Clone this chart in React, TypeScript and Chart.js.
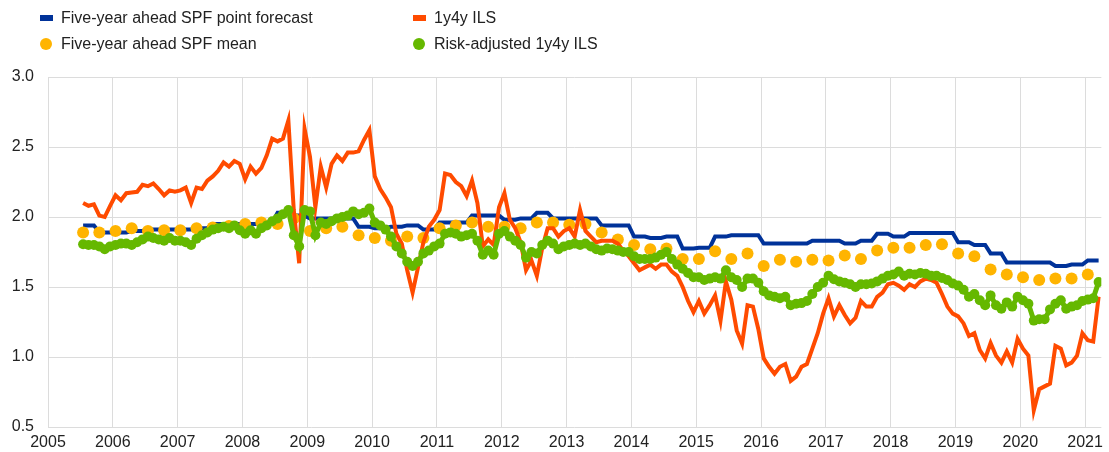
import React, { useEffect, useRef } from "react";
import { Chart, registerables } from "chart.js";

Chart.register(...registerables);

// Monthly observations start in July 2005
const START_YEAR = 2005;
const START_MONTH = 7;

// 1y4y ILS (monthly)
const ils = [
  2.10, 2.08, 2.09, 2.01, 2.00, 2.08, 2.155, 2.12, 2.17, 2.175, 2.18, 2.23,
  2.22, 2.24, 2.20, 2.155, 2.19, 2.18, 2.19, 2.21, 2.10, 2.21, 2.20, 2.26,
  2.29, 2.33, 2.39, 2.36, 2.40, 2.38, 2.27, 2.36, 2.31, 2.35, 2.44, 2.56,
  2.54, 2.56, 2.69, 2.05, 1.67, 2.63, 2.43, 2.07, 2.36, 2.21, 2.38, 2.44,
  2.40, 2.46, 2.46, 2.47, 2.55, 2.62, 2.29, 2.20, 2.14, 2.07, 1.88, 1.81,
  1.62, 1.46, 1.64, 1.82, 1.93, 1.98, 2.05, 2.31, 2.30, 2.25, 2.22, 2.15,
  2.26, 2.10, 1.79, 1.84, 1.80, 2.07, 2.17, 1.98, 1.92, 1.82, 1.62, 1.69,
  1.58, 1.78, 1.92, 1.92, 1.86, 1.90, 1.92, 1.86, 2.05, 1.90, 1.86, 1.82,
  1.83, 1.83, 1.83, 1.81, 1.76, 1.72, 1.67, 1.62, 1.64, 1.66, 1.63, 1.66,
  1.66, 1.61, 1.58, 1.50, 1.40, 1.32, 1.40, 1.31, 1.37, 1.44, 1.26, 1.54,
  1.41, 1.19, 1.095, 1.37, 1.36, 1.20, 0.99, 0.93, 0.88, 0.93, 0.95, 0.83,
  0.86, 0.93, 0.95, 1.06, 1.17, 1.31, 1.42, 1.29, 1.37, 1.30, 1.24, 1.28,
  1.40, 1.36, 1.36, 1.43, 1.46, 1.52, 1.53, 1.51, 1.48, 1.52, 1.50, 1.54,
  1.56, 1.55, 1.53, 1.45, 1.36, 1.31, 1.29, 1.24, 1.15, 1.17, 1.05, 0.99,
  1.10, 1.01, 0.96, 1.04, 0.96, 1.13, 1.06, 1.01, 0.62, 0.77, 0.79, 0.81,
  1.08, 1.06, 0.94, 0.96, 1.01, 1.17, 1.12, 1.11, 1.43,
];

// Risk-adjusted 1y4y ILS (monthly)
const riskAdjustedIls = [
  1.805, 1.80, 1.80, 1.79, 1.77, 1.79, 1.80, 1.81, 1.81, 1.80, 1.82, 1.84,
  1.86, 1.85, 1.84, 1.83, 1.85, 1.83, 1.83, 1.82, 1.80, 1.845, 1.87, 1.89,
  1.91, 1.92, 1.93, 1.92, 1.94, 1.905, 1.88, 1.905, 1.88, 1.92, 1.94, 1.97,
  1.99, 2.02, 2.05, 1.87, 1.79, 2.05, 2.04, 1.87, 1.96, 1.95, 1.97, 1.99,
  2.00, 2.01, 2.04, 2.02, 2.03, 2.06, 1.96, 1.94, 1.91, 1.86, 1.79, 1.74,
  1.68, 1.65, 1.68, 1.74, 1.76, 1.79, 1.81, 1.88, 1.89, 1.88, 1.86, 1.87,
  1.88, 1.83, 1.73, 1.76, 1.73, 1.88, 1.90, 1.86, 1.83, 1.80, 1.71, 1.75,
  1.74, 1.80, 1.83, 1.81, 1.77, 1.79, 1.80, 1.81, 1.80, 1.81, 1.79, 1.77,
  1.76, 1.775, 1.77, 1.76, 1.75, 1.75, 1.72, 1.70, 1.70, 1.70, 1.71, 1.73,
  1.75, 1.70, 1.66, 1.63, 1.60, 1.57, 1.57, 1.55, 1.56, 1.57, 1.56, 1.62,
  1.57, 1.55, 1.50, 1.56, 1.56, 1.53, 1.47, 1.44, 1.43, 1.42, 1.43, 1.37,
  1.38, 1.385, 1.40, 1.45, 1.50, 1.53, 1.58, 1.555, 1.54, 1.53, 1.52, 1.50,
  1.52, 1.52, 1.525, 1.54, 1.56, 1.58, 1.59, 1.61, 1.58, 1.595, 1.59, 1.60,
  1.595, 1.58, 1.58, 1.565, 1.55, 1.525, 1.51, 1.48, 1.43, 1.45, 1.405, 1.37,
  1.44, 1.37, 1.345, 1.39, 1.36, 1.43, 1.405, 1.38, 1.26, 1.27, 1.27, 1.34,
  1.38, 1.405, 1.345, 1.36, 1.37, 1.40, 1.41, 1.42, 1.535,
];

// Five-year ahead SPF mean (quarterly, from Q3 2005)
const spfMean = [
  1.89, 1.89, 1.90, 1.92, 1.90, 1.905, 1.905, 1.92, 1.925, 1.935, 1.95, 1.96,
  1.95, 1.99, 1.90, 1.92, 1.93, 1.87, 1.85, 1.83, 1.86, 1.85, 1.92, 1.94,
  1.96, 1.93, 1.93, 1.92, 1.96, 1.96, 1.945, 1.95, 1.89, 1.84, 1.80, 1.77,
  1.775, 1.70, 1.70, 1.755, 1.70, 1.74, 1.65, 1.695, 1.68, 1.695, 1.69, 1.725,
  1.70, 1.76, 1.78, 1.78, 1.80, 1.805, 1.74, 1.72, 1.625, 1.59, 1.57, 1.55,
  1.56, 1.56, 1.59,
];

// Five-year ahead SPF point forecast (quarterly, from Q3 2005)
const spfPoint = [
  1.94, 1.89, 1.89, 1.90, 1.91, 1.91, 1.91, 1.92, 1.95, 1.95, 1.95, 1.96,
  2.03, 2.01, 1.99, 1.99, 1.99, 1.93, 1.92, 1.93, 1.94, 1.91, 1.96, 1.96,
  2.01, 2.01, 1.98, 1.99, 2.03, 1.99, 1.99, 1.99, 1.94, 1.94, 1.86, 1.85,
  1.86, 1.775, 1.78, 1.86, 1.87, 1.87, 1.81, 1.81, 1.81, 1.83, 1.83, 1.81,
  1.83, 1.88, 1.86, 1.885, 1.885, 1.885, 1.82, 1.80, 1.74, 1.675, 1.675, 1.675,
  1.65, 1.66, 1.69,
];

const yearTicks = [
  2005, 2006, 2007, 2008, 2009, 2010, 2011, 2012, 2013, 2014, 2015, 2016,
  2017, 2018, 2019, 2020, 2021,
];
const valueTicks = [0.5, 1.0, 1.5, 2.0, 2.5, 3.0];

const LABELS = {
  point: "Five-year ahead SPF point forecast",
  mean: "Five-year ahead SPF mean",
  ils: "1y4y ILS",
  risk: "Risk-adjusted 1y4y ILS",
};

const COLORS = {
  point: "#003299",
  mean: "#FFB400",
  ils: "#FF4B00",
  risk: "#65B800",
};

const FONT = "'Liberation Sans', Arial, Helvetica, sans-serif";

const monthTime = (k: number) => START_YEAR + (START_MONTH - 1 + k + 0.5) / 12;

export default function App() {
  const canvasRef = useRef<HTMLCanvasElement | null>(null);

  useEffect(() => {
    const canvas = canvasRef.current;
    if (!canvas) return;

    const ilsData = ils.map((v, k) => ({ x: monthTime(k), y: v }));
    const riskData = riskAdjustedIls.map((v, k) => ({ x: monthTime(k), y: v }));
    const meanData = spfMean.map((v, q) => ({ x: monthTime(3 * q), y: v }));
    const pointData: { x: number; y: number }[] = [];
    spfPoint.forEach((v, q) => {
      for (let j = 0; j < 3; j++) {
        const k = 3 * q + j;
        if (k < ils.length) pointData.push({ x: monthTime(k), y: v });
      }
    });

    const chart = new Chart(canvas, {
      type: "line",
      data: {
        datasets: [
          {
            label: LABELS.risk,
            data: riskData,
            borderColor: COLORS.risk,
            backgroundColor: COLORS.risk,
            borderWidth: 5,
            pointRadius: 5,
            pointBorderWidth: 0,
            pointBackgroundColor: COLORS.risk,
            tension: 0,
          },
          {
            label: LABELS.ils,
            data: ilsData,
            borderColor: COLORS.ils,
            backgroundColor: COLORS.ils,
            borderWidth: 4,
            pointRadius: 0,
            tension: 0,
          },
          {
            label: LABELS.mean,
            data: meanData,
            borderColor: COLORS.mean,
            backgroundColor: COLORS.mean,
            showLine: false,
            pointRadius: 6,
            pointBorderWidth: 0,
            pointBackgroundColor: COLORS.mean,
          },
          {
            label: LABELS.point,
            data: pointData,
            borderColor: COLORS.point,
            backgroundColor: COLORS.point,
            borderWidth: 4,
            pointRadius: 0,
            tension: 0,
          },
        ],
      },
      options: {
        animation: false,
        responsive: false,
        devicePixelRatio: 1,
        events: [],
        layout: { padding: { top: 77, right: 3, bottom: 0, left: 0 } },
        plugins: {
          legend: { display: false },
          tooltip: { enabled: false },
          title: { display: false },
        },
        scales: {
          x: {
            type: "linear",
            min: 2005,
            max: 2021.25,
            afterBuildTicks: (axis: any) => {
              axis.ticks = yearTicks.map((v) => ({ value: v }));
            },
            afterFit: (axis: any) => {
              axis.height = 25;
            },
            ticks: {
              autoSkip: false,
              maxRotation: 0,
              padding: 6,
              color: "#222",
              font: { family: FONT, size: 16 },
              callback: (v: any) => String(v),
            },
            grid: { color: "#dcdcdc", lineWidth: 1, drawTicks: false },
            border: { display: false },
          },
          y: {
            type: "linear",
            min: 0.5,
            max: 3.0,
            afterBuildTicks: (axis: any) => {
              axis.ticks = valueTicks.map((v) => ({ value: v }));
            },
            afterFit: (axis: any) => {
              axis.width = 48;
            },
            ticks: {
              padding: 14,
              color: "#222",
              font: { family: FONT, size: 16 },
              callback: (v: any) => Number(v).toFixed(1),
            },
            grid: { color: "#dcdcdc", lineWidth: 1, drawTicks: false },
            border: { display: false },
          },
        },
      },
    });

    return () => {
      chart.destroy();
    };
  }, []);

  const legendRows = [
    [
      { label: LABELS.point, color: COLORS.point, shape: "rect" },
      { label: LABELS.ils, color: COLORS.ils, shape: "rect" },
    ],
    [
      { label: LABELS.mean, color: COLORS.mean, shape: "circle" },
      { label: LABELS.risk, color: COLORS.risk, shape: "circle" },
    ],
  ];
  const colLeft = [40, 413];
  const rowCenter = [18, 44];

  return (
    <div
      style={{
        position: "absolute",
        left: 0,
        top: 0,
        width: 1109,
        height: 452,
        background: "#fff",
        overflow: "hidden",
      }}
    >
      <canvas
        ref={canvasRef}
        width={1109}
        height={452}
        style={{ display: "block", width: 1109, height: 452 }}
      />
      {legendRows.map((row, r) =>
        row.map((item, c) => (
          <div
            key={`${r}-${c}`}
            style={{
              position: "absolute",
              left: colLeft[c],
              top: rowCenter[r] - 10,
              height: 20,
              display: "flex",
              alignItems: "center",
              fontFamily: FONT,
              fontSize: 16,
              color: "#222",
              whiteSpace: "nowrap",
            }}
          >
            <span
              style={{
                display: "inline-block",
                width: item.shape === "rect" ? 13 : 12,
                height: item.shape === "rect" ? 6 : 12,
                borderRadius: item.shape === "rect" ? 0 : "50%",
                background: item.color,
                marginRight: item.shape === "rect" ? 8 : 9,
              }}
            />
            <span>{item.label}</span>
          </div>
        ))
      )}
    </div>
  );
}
